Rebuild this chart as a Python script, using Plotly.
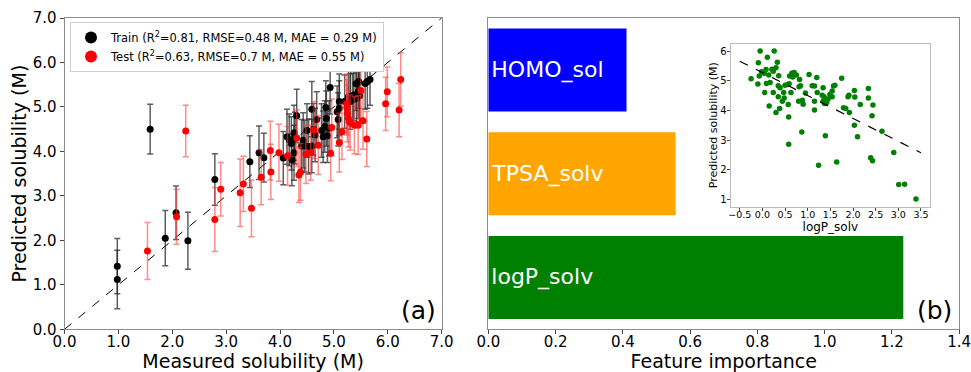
import plotly.graph_objects as go

# ---------------- data ----------------
train_x = [0.98, 0.98, 1.59, 1.87, 2.07, 2.29, 2.79, 3.44, 3.61, 3.70, 4.06, 4.13, 4.17, 4.21,
           4.26, 4.31, 4.22, 4.26, 4.40, 4.46, 4.53, 4.59, 4.50, 4.59, 4.62, 4.65, 4.68, 4.77,
           4.80, 4.85, 4.86, 4.88, 4.93, 4.91, 5.06, 5.08, 5.10, 5.20, 5.27, 5.30, 5.35, 5.37,
           5.41, 5.42, 5.48, 5.46, 5.58, 5.62, 5.67, 5.10, 5.45, 4.83, 4.43, 5.31, 4.28]
train_y = [1.42, 1.12, 4.50, 2.05, 2.62, 1.99, 3.37, 3.77, 3.97, 3.86, 3.85, 4.33, 4.26, 4.18,
           4.42, 4.80, 3.81, 3.97, 4.12, 4.12, 4.11, 4.12, 4.47, 4.95, 4.50, 4.37, 4.72, 4.47,
           4.33, 4.99, 4.74, 4.35, 5.44, 4.52, 4.89, 4.72, 4.97, 5.12, 5.23, 5.12, 5.16, 5.27,
           5.52, 5.19, 5.25, 5.57, 5.53, 5.57, 5.62, 5.12, 5.34, 4.56, 4.25, 5.23, 4.30]
train_err = [0.62, 0.66, 0.56, 0.62, 0.60, 0.64, 0.58, 0.58, 0.60, 0.55, 0.60, 0.62, 0.58, 0.60,
             0.62, 0.60, 0.58, 0.62, 0.60, 0.58, 0.62, 0.60, 0.60, 0.62, 0.58, 0.60, 0.62, 0.60,
             0.58, 0.60, 0.62, 0.60, 0.60, 0.62, 0.58, 0.60, 0.62, 0.60, 0.58, 0.62, 0.60, 0.58,
             0.60, 0.62, 0.58, 0.60, 0.58, 0.60, 0.58, 0.62, 0.60, 0.58, 0.62, 0.60, 0.58]

test_x = [1.54, 2.08, 2.25, 2.79, 2.90, 3.26, 3.32, 3.47, 3.65, 3.82, 3.83, 3.98, 4.14, 4.31,
          4.35, 4.38, 4.48, 4.57, 4.63, 4.71, 4.94, 4.96, 5.10, 5.15, 5.25, 5.24, 5.24, 5.27,
          5.30, 5.38, 5.45, 5.50, 5.54, 5.61, 5.96, 5.99, 6.21, 6.24]
test_y = [1.76, 2.53, 4.46, 2.47, 3.15, 3.07, 3.27, 2.72, 3.42, 4.02, 3.54, 3.97, 3.90, 4.30,
          3.47, 3.54, 3.94, 3.97, 4.48, 4.14, 3.96, 4.54, 4.20, 4.44, 4.86, 4.99, 5.08, 4.74,
          4.65, 4.59, 4.59, 5.37, 4.69, 4.28, 5.07, 5.34, 4.93, 5.62]
test_err = [0.64, 0.62, 0.58, 0.72, 0.60, 0.76, 0.62, 0.64, 0.62, 0.66, 0.62, 0.64, 0.66, 0.64,
            0.62, 0.64, 0.66, 0.62, 0.64, 0.66, 0.62, 0.64, 0.66, 0.62, 0.64, 0.62, 0.66, 0.64,
            0.62, 0.64, 0.66, 0.62, 0.64, 0.62, 0.60, 0.56, 0.60, 0.60]

features = ["logP_solv", "TPSA_solv", "HOMO_sol"]
importance = [1.234, 0.557, 0.411]
bar_colors = ["#008000", "#ffa500", "#0000ff"]

logp = [-0.25, -0.05, 0.26, -0.09, 0.11, 0.33, 0.30, -0.10, -0.07, -0.02, 0.04, 0.08, 0.14, 0.21,
        0.24, 0.17, 0.09, 0.05, 0.15, 0.24, 0.30, 0.36, 0.35, 0.39, 0.35, 0.44, 0.38, 0.47, 0.50,
        0.48, 0.56, 0.59, 0.57, 0.58, 0.58, 0.60, 0.65, 0.67, 0.70, 0.75, 0.63, 0.81, 0.84, 0.82,
        0.80, 0.88, 0.90, 0.95, 0.87, 1.03, 1.10, 1.15, 1.20, 1.21, 1.15, 1.15, 1.24, 1.34, 1.32,
        1.36, 1.34, 1.37, 1.42, 1.40, 1.45, 1.49, 1.54, 1.57, 1.60, 1.54, 1.39, 1.64, 1.75, 1.79,
        1.84, 1.89, 1.91, 1.92, 2.03, 2.04, 2.03, 2.10, 2.16, 2.34, 2.34, 2.44, 2.42, 2.39, 2.43,
        2.64, 2.90, 3.01, 3.14, 3.39]
pred_sol = [5.07, 6.00, 6.00, 5.61, 5.79, 5.62, 5.44, 4.89, 5.16, 5.30, 5.25, 5.38, 5.19, 5.39,
            5.32, 4.94, 4.91, 4.60, 4.15, 4.60, 3.93, 5.17, 4.83, 4.76, 4.46, 4.31, 4.06, 4.60, 4.85,
            4.42, 4.87, 4.90, 4.20, 3.78, 2.86, 5.16, 5.25, 5.13, 5.28, 5.19, 4.60, 4.80, 4.83, 5.04,
            4.31, 4.34, 4.21, 4.59, 3.27, 5.21, 4.83, 4.82, 5.11, 4.60, 4.31, 4.01, 2.15, 4.76, 4.51,
            4.46, 4.31, 4.23, 4.27, 4.38, 4.38, 4.54, 4.65, 4.82, 4.85, 4.46, 3.14, 2.26, 5.08, 4.09,
            4.06, 4.46, 4.51, 3.93, 4.67, 4.45, 3.50, 3.11, 4.20, 4.74, 4.42, 4.18, 3.82, 2.40, 2.30,
            3.30, 2.58, 1.50, 1.51, 1.01]
fit_x = [-0.5, 3.5]
fit_y = [5.66, 2.57]

parity_x = [0, 7]
parity_y = [0, 7]

# ---------------- figure ----------------
W, H = 971, 372
def fx(p):
    return p / W
def fy(p):
    return 1 - p / H

FONT = "DejaVu Sans"
fig = go.Figure()

fig.add_trace(go.Scatter(x=parity_x, y=parity_y, mode="lines",
                         line=dict(color="black", width=1, dash="dash"),
                         showlegend=False, hoverinfo="skip", xaxis="x", yaxis="y"))
fig.add_trace(go.Scatter(
    x=train_x, y=train_y, mode="markers",
    name="Train (R<sup>2</sup>=0.81, RMSE=0.48 M, MAE = 0.29 M)",
    marker=dict(color="black", size=7),
    error_y=dict(type="data", array=train_err, color="rgba(40,40,40,0.75)", thickness=1.5, width=3),
    xaxis="x", yaxis="y"))
fig.add_trace(go.Scatter(
    x=test_x, y=test_y, mode="markers",
    name="Test (R<sup>2</sup>=0.63, RMSE=0.7 M, MAE = 0.55 M)",
    marker=dict(color="red", size=7),
    error_y=dict(type="data", array=test_err, color="rgba(255,60,60,0.6)", thickness=1.5, width=3),
    xaxis="x", yaxis="y"))

fig.add_trace(go.Bar(x=importance, y=features, orientation="h", width=0.8,
                     marker=dict(color=bar_colors, line=dict(width=0)),
                     text=features, textposition="inside", insidetextanchor="start",
                     textfont=dict(color="white", size=22, family=FONT),
                     showlegend=False, xaxis="x2", yaxis="y2"))

fig.add_trace(go.Scatter(x=logp, y=pred_sol, mode="markers",
                         marker=dict(color="#008000", size=5.5),
                         showlegend=False, xaxis="x3", yaxis="y3"))
fig.add_trace(go.Scatter(x=fit_x, y=fit_y, mode="lines",
                         line=dict(color="black", width=1.2, dash="dash"),
                         showlegend=False, xaxis="x3", yaxis="y3"))

frame = dict(showline=True, linecolor="#8c8c8c", linewidth=1, mirror=True,
             showgrid=False, zeroline=False, ticks="outside", ticklen=4,
             tickcolor="#444", automargin=False, ticklabeloverflow="allow")

yd = [1 - 329.3 / H, 1 - 18 / H]
fig.update_layout(
    width=W, height=H,
    margin=dict(l=0, r=0, t=0, b=0),
    paper_bgcolor="white", plot_bgcolor="white",
    font=dict(family=FONT, color="black"),
    xaxis=dict(domain=[fx(64.5), fx(441.7)], range=[0, 7.0005], dtick=1, tickformat=".1f",
               tickfont=dict(size=15), ticklabelstandoff=-5,
               title=dict(text="Measured solubility (M)", font=dict(size=19), standoff=4),
               anchor="y", **frame),
    yaxis=dict(domain=yd, range=[0, 7.0005], dtick=1, tickformat=".1f",
               tickfont=dict(size=15),
               title=dict(text="Predicted solubility (M)", font=dict(size=19), standoff=0),
               anchor="x", **frame),
    xaxis2=dict(domain=[fx(488.3), fx(959.3)], range=[0, 1.4005], dtick=0.2, tickformat=".1f",
                tickfont=dict(size=15), ticklabelstandoff=-5,
                title=dict(text="Feature importance", font=dict(size=19), standoff=4),
                anchor="y2", **frame),
    yaxis2=dict(domain=yd, range=[-0.5, 2.5], showticklabels=False, ticks="",
                showline=True, linecolor="#8c8c8c", mirror=True, showgrid=False,
                zeroline=False, anchor="x2", automargin=False),
    xaxis3=dict(domain=[fx(730.7), fx(930)], range=[-0.7, 3.7], dtick=0.5, tickformat=".1f",
                tickfont=dict(size=9.5), tickangle=0, ticklabelstandoff=-4,
                title=dict(text="logP_solv", font=dict(size=12), standoff=0),
                anchor="y3", showline=True, linecolor="#bbbbbb", mirror=True, showgrid=False,
                zeroline=False, ticks="outside", ticklen=3, tickcolor="#444", automargin=False),
    yaxis3=dict(domain=[fy(206.7), fy(43.7)], range=[0.75, 6.25], dtick=1,
                tickfont=dict(size=10), ticklabelstandoff=-2,
                title=dict(text="Predicted solubility (M)", font=dict(size=11), standoff=0),
                anchor="x3", showline=True, linecolor="#bbbbbb", mirror=True, showgrid=False,
                zeroline=False, ticks="outside", ticklen=3, tickcolor="#444", automargin=False),
    legend=dict(x=fx(70), y=fy(22), xanchor="left", yanchor="top",
                bgcolor="white", bordercolor="#cccccc", borderwidth=1,
                font=dict(size=11.5), tracegroupgap=0, itemsizing="constant"),
    bargap=0.2,
    annotations=[
        dict(text="(a)", x=fx(438), y=fy(310), xref="paper", yref="paper",
             xanchor="right", yanchor="middle", showarrow=False, font=dict(size=25)),
        dict(text="(b)", x=fx(954), y=fy(310), xref="paper", yref="paper",
             xanchor="right", yanchor="middle", showarrow=False, font=dict(size=25)),
    ],
)

fig.write_html("out.html", config={"displayModeBar": False},
               post_script="document.body.style.margin='0';")
